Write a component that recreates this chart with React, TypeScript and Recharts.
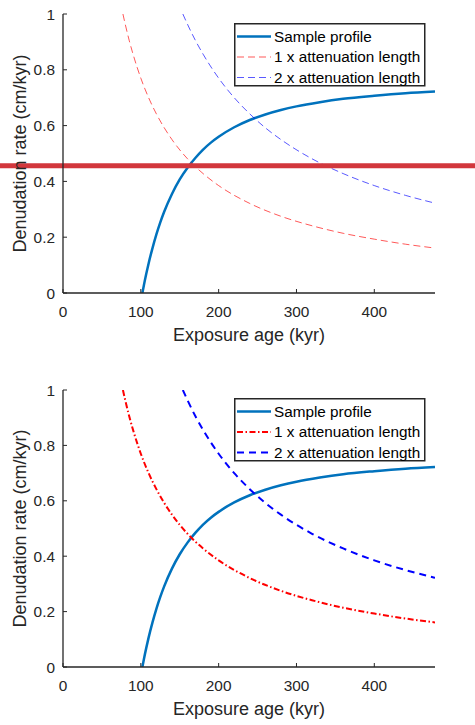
import { LineChart, Line, XAxis, YAxis, ReferenceLine, Label } from "recharts"

// Exposure age axis (kyr) and rate axis (cm/kyr)
const AGE_MAX = 478
const AGE_TICKS = [0, 100, 200, 300, 400]
const RATE_TICKS = [0, 0.2, 0.4, 0.6, 0.8, 1]

// Sample profile solution
const sampleAge = [102, 104, 107, 110, 115, 120, 125, 130, 140, 150, 160, 170, 180, 190, 200, 220, 240, 260, 280, 300, 330, 360, 400, 440, 478]
const sampleRate = [0, 0.029, 0.069, 0.106, 0.161, 0.21, 0.253, 0.291, 0.355, 0.407, 0.449, 0.484, 0.514, 0.539, 0.56, 0.594, 0.62, 0.64, 0.656, 0.669, 0.684, 0.696, 0.707, 0.716, 0.722]

// 1 x attenuation length
const oneAttAge = [77, 80, 85, 90, 100, 110, 120, 140, 160, 180, 200, 240, 280, 320, 360, 400, 440, 478]
const oneAttRate = [1.0, 0.963, 0.906, 0.856, 0.77, 0.7, 0.642, 0.55, 0.481, 0.428, 0.385, 0.321, 0.275, 0.241, 0.214, 0.193, 0.175, 0.161]

// 2 x attenuation length
const twoAttAge = [154, 160, 170, 180, 200, 220, 240, 260, 280, 320, 360, 400, 440, 478]
const twoAttRate = [1.0, 0.963, 0.906, 0.856, 0.77, 0.7, 0.642, 0.592, 0.55, 0.481, 0.428, 0.385, 0.35, 0.322]

// horizontal marker drawn across the upper panel
const MARKER_RATE = 0.456

const FONT = '"Liberation Sans", Arial, Helvetica, sans-serif'
const AXIS = "#262626"

const toPoints = (ages: number[], rates: number[]) => ages.map((t, i) => ({ t, v: rates[i] }))
const sampleData = toPoints(sampleAge, sampleRate)
const oneAttData = toPoints(oneAttAge, oneAttRate)
const twoAttData = toPoints(twoAttAge, twoAttRate)

type SeriesStyle = { name: string; data: { t: number; v: number }[]; color: string; width: number; dash?: string; opacity?: number }

const thinSeries: SeriesStyle[] = [
  { name: "Sample profile", data: sampleData, color: "#0072BD", width: 2.5 },
  { name: "1 x attenuation length", data: oneAttData, color: "#ff0000", width: 1, dash: "7 4", opacity: 0.65 },
  { name: "2 x attenuation length", data: twoAttData, color: "#0000ff", width: 1, dash: "7 4", opacity: 0.65 },
]

const boldSeries: SeriesStyle[] = [
  { name: "Sample profile", data: sampleData, color: "#0072BD", width: 2.5 },
  { name: "1 x attenuation length", data: oneAttData, color: "#ff0000", width: 2, dash: "6 2.5 1.5 2.5" },
  { name: "2 x attenuation length", data: twoAttData, color: "#0000ff", width: 2, dash: "7 5" },
]

function XTick({ x, y, payload }: any) {
  return (
    <g>
      <line x1={x} x2={x} y1={y} y2={y - 4} stroke={AXIS} strokeWidth={1} />
      <text x={x} y={y + 24} textAnchor="middle" fill={AXIS} fontSize={15.4} fontFamily={FONT}>
        {payload.value}
      </text>
    </g>
  )
}

function YTick({ x, y, payload }: any) {
  return (
    <g>
      <line x1={x} x2={x + 4} y1={y} y2={y} stroke={AXIS} strokeWidth={1} />
      <text x={x - 8} y={y + 5.5} textAnchor="end" fill={AXIS} fontSize={15.4} fontFamily={FONT}>
        {payload.value}
      </text>
    </g>
  )
}

function XTitle({ viewBox }: any) {
  return (
    <text x={viewBox.x + viewBox.width / 2} y={viewBox.y + 48} textAnchor="middle" fill={AXIS} fontSize={18} fontFamily={FONT}>
      Exposure age (kyr)
    </text>
  )
}

function YTitle({ viewBox }: any) {
  const x = viewBox.x + 25.5
  const y = viewBox.y + viewBox.height / 2
  return (
    <text x={x} y={y} transform={`rotate(-90, ${x}, ${y})`} textAnchor="middle" fill={AXIS} fontSize={18} fontFamily={FONT}>
      Denudation rate (cm/kyr)
    </text>
  )
}

function LegendBox({ items, top }: { items: SeriesStyle[]; top: number }) {
  return (
    <svg width={192} height={64} style={{ position: "absolute", left: 234, top, zIndex: 2 }}>
      <rect x={0.75} y={0.75} width={190} height={62} fill="#fff" stroke={AXIS} strokeWidth={1.5} />
      {items.map((s, i) => {
        const cy = 13.5 + i * 20.5
        return (
          <g key={s.name}>
            <line x1={3} x2={37} y1={cy} y2={cy} stroke={s.color} strokeWidth={s.width} strokeDasharray={s.dash} strokeOpacity={s.opacity ?? 1} />
            <text x={40} y={cy + 5.4} fill="#000" fontSize={15.3} fontFamily={FONT}>
              {s.name}
            </text>
          </g>
        )
      })}
    </svg>
  )
}

function Panel({ series, height, marker }: { series: SeriesStyle[]; height: number; marker?: boolean }) {
  return (
    <LineChart width={475} height={height} margin={{ top: 14, right: 40, bottom: 7, left: 0 }}>
      <XAxis
        type="number"
        dataKey="t"
        domain={[0, AGE_MAX]}
        ticks={AGE_TICKS}
        allowDataOverflow
        height={60}
        tickSize={0}
        tickMargin={0}
        tickLine={false}
        tick={<XTick />}
        axisLine={{ stroke: AXIS, strokeWidth: 1.3 }}
      >
        <Label content={<XTitle />} />
      </XAxis>
      <YAxis
        type="number"
        dataKey="v"
        domain={[0, 1]}
        ticks={RATE_TICKS}
        allowDataOverflow
        width={63}
        tickSize={0}
        tickMargin={0}
        tickLine={false}
        tick={<YTick />}
        axisLine={{ stroke: AXIS, strokeWidth: 1.3 }}
      >
        <Label content={<YTitle />} />
      </YAxis>
      {series.map((s) => (
        <Line
          key={s.name}
          data={s.data}
          dataKey="v"
          type="monotone"
          stroke={s.color}
          strokeWidth={s.width}
          strokeDasharray={s.dash}
          strokeOpacity={s.opacity ?? 1}
          dot={false}
          activeDot={false}
          isAnimationActive={false}
        />
      ))}
      {marker && (
        <ReferenceLine
          y={MARKER_RATE}
          stroke="#d2373c"
          strokeWidth={5}
          shape={(p: any) => <line x1={0} x2={475} y1={p.y1} y2={p.y2} stroke="#d2373c" strokeWidth={5} />}
        />
      )}
    </LineChart>
  )
}

export default function App() {
  return (
    <div style={{ position: "fixed", left: 0, top: 0, width: 475, height: 725, background: "#fff", fontFamily: FONT }}>
      <div style={{ position: "absolute", left: 0, top: 0 }}>
        <Panel series={thinSeries} height={360} marker />
      </div>
      <LegendBox items={thinSeries} top={23} />
      <div style={{ position: "absolute", left: 0, top: 376 }}>
        <Panel series={boldSeries} height={358} />
      </div>
      <LegendBox items={boldSeries} top={398} />
    </div>
  )
}
